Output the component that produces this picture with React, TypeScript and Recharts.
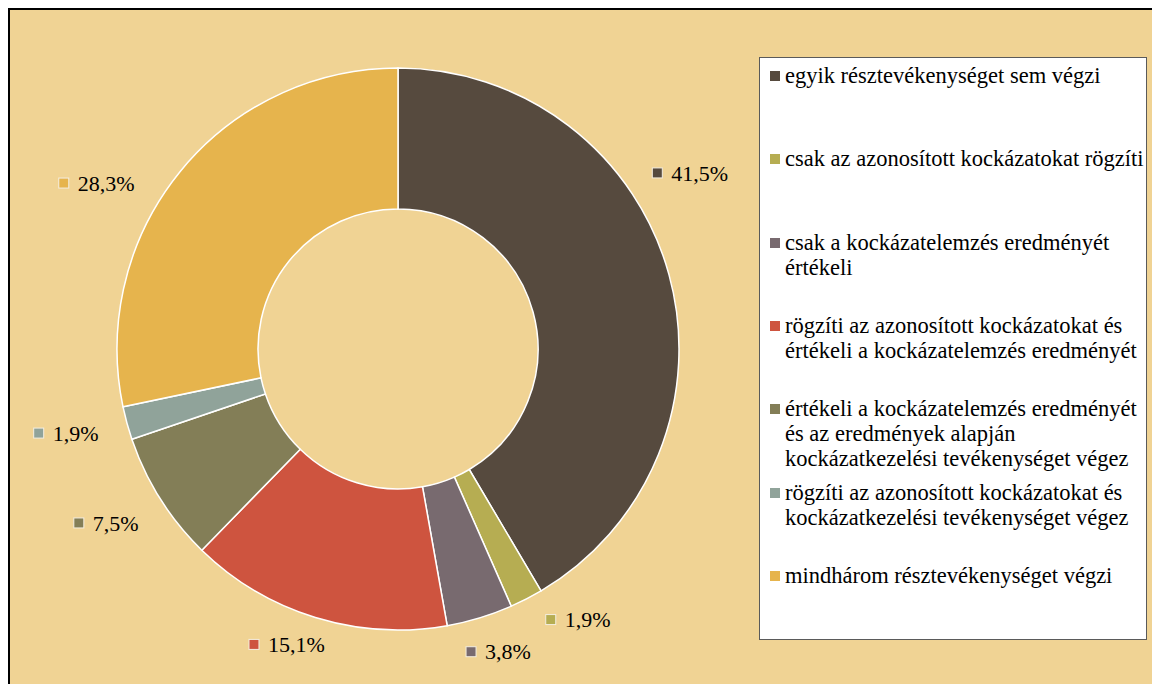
import { PieChart, Pie, Cell, Legend } from 'recharts';

const categories = [
  'egyik résztevékenységet sem végzi',
  'csak az azonosított kockázatokat rögzíti',
  'csak a kockázatelemzés eredményét értékeli',
  'rögzíti az azonosított kockázatokat és értékeli a kockázatelemzés eredményét',
  'értékeli a kockázatelemzés eredményét és az eredmények alapján kockázatkezelési tevékenységet végez',
  'rögzíti az azonosított kockázatokat és kockázatkezelési tevékenységet végez',
  'mindhárom résztevékenységet végzi',
];

// legend line breaks as in the original
const legendLines = [
  ['egyik résztevékenységet sem végzi'],
  ['csak az azonosított kockázatokat rögzíti'],
  ['csak a kockázatelemzés eredményét', 'értékeli'],
  ['rögzíti az azonosított kockázatokat és', 'értékeli a kockázatelemzés eredményét'],
  ['értékeli a kockázatelemzés eredményét', 'és az eredmények alapján', 'kockázatkezelési tevékenységet végez'],
  ['rögzíti az azonosított kockázatokat és', 'kockázatkezelési tevékenységet végez'],
  ['mindhárom résztevékenységet végzi'],
];

const shares = [41.5, 1.9, 3.8, 15.1, 7.5, 1.9, 28.3];

const colors = ['#564a3e', '#b6ad52', '#786a6f', '#ce543f', '#837e57', '#90a39a', '#e6b44d'];

// small shifts of the data labels away from the mid-angle spot (Excel best fit)
const labelNudge = [
  [-59, -89],
  [2, -23],
  [-23, -13],
  [-47, -20],
  [-40, -2],
  [-41, -3],
  [-78, 42],
];

const data = categories.map((name, i) => ({ name, value: shares[i] }));

const FONT = '"Liberation Serif", "Times New Roman", serif';
const RADIAN = Math.PI / 180;

const renderLabel = (props: any) => {
  const { cx, cy, midAngle, outerRadius, index, value } = props;
  const r = outerRadius + 49;
  const x = cx + r * Math.cos(-midAngle * RADIAN) + labelNudge[index][0];
  const y = cy + r * Math.sin(-midAngle * RADIAN) + labelNudge[index][1];
  return (
    <g>
      <rect
        x={x - 5}
        y={y - 5}
        width={10}
        height={10}
        fill={colors[index]}
        stroke="#f4eee0"
        strokeWidth={1}
      />
      <text
        x={x + 14}
        y={y}
        dy="0.35em"
        fill="#000"
        fontSize={22}
        fontFamily={FONT}
        textAnchor="start"
      >
        {value.toFixed(1).replace('.', ',')}%
      </text>
    </g>
  );
};

const renderLegend = () => (
  <div
    style={{
      position: 'relative',
      width: 388,
      height: 583,
      background: '#fff',
      border: '1px solid #5a5a5a',
      boxSizing: 'border-box',
      fontFamily: FONT,
      fontSize: 22.5,
      lineHeight: '25px',
      color: '#000',
    }}
  >
    {legendLines.map((lines, i) => (
      <div
        key={i}
        style={{ position: 'absolute', left: 10, top: 5 + i * 83.3, display: 'flex' }}
      >
        <div
          style={{
            width: 10,
            height: 10,
            marginTop: 8,
            background: colors[i],
            flexShrink: 0,
          }}
        />
        <div style={{ marginLeft: 5, whiteSpace: 'nowrap' }}>
          {lines.map((l, j) => (
            <div key={j}>{l}</div>
          ))}
        </div>
      </div>
    ))}
  </div>
);

export default function App() {
  return (
    <div
      style={{
        position: 'absolute',
        left: 0,
        top: 0,
        width: 1152,
        height: 684,
        background: '#fff',
        overflow: 'hidden',
      }}
    >
      <div
        style={{
          position: 'absolute',
          left: 8,
          top: 8,
          width: 1144,
          height: 676,
          background: '#f0d394',
          borderTop: '2px solid #000',
          borderLeft: '2px solid #000',
          boxSizing: 'border-box',
        }}
      />
      <div style={{ position: 'absolute', left: 0, top: 0 }}>
        <PieChart
          width={1152}
          height={684}
          margin={{ top: 0, right: 0, bottom: 0, left: 0 }}
        >
          <Pie
            data={data}
            dataKey="value"
            nameKey="name"
            cx={398}
            cy={349}
            innerRadius={140}
            outerRadius={281}
            startAngle={90}
            endAngle={-270}
            stroke="#ffffff"
            strokeWidth={1.5}
            label={renderLabel}
            labelLine={false}
            isAnimationActive={false}
          >
            {data.map((d, i) => (
              <Cell key={d.name} fill={colors[i]} />
            ))}
          </Pie>
          <Legend
            content={renderLegend}
            wrapperStyle={{ left: 759, top: 57, width: 388, height: 583 }}
          />
        </PieChart>
      </div>
    </div>
  );
}
